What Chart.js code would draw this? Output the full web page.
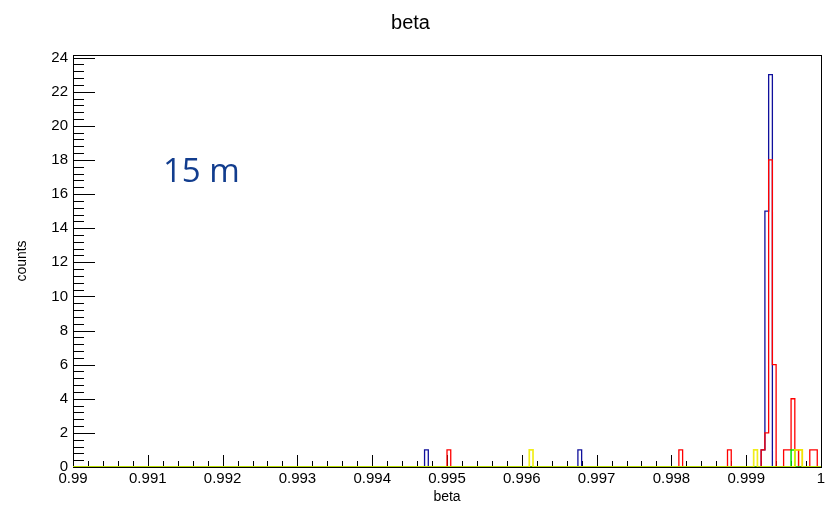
<!DOCTYPE html>
<html>
<head>
<meta charset="utf-8">
<script src="https://cdn.jsdelivr.net/npm/chart.js@4"></script>
<style>
html, body { margin: 0; padding: 0; background: #fff; }
</style>
</head>
<body>
<canvas id="chart" width="837" height="512"></canvas>
<script>
// binning of the beta histograms
const betaMin = 0.99;
const betaMax = 1.0;
const binWidth = 0.00005;

// non empty bins: lower edge of bin, counts
const blueBeta = [0.99470, 0.99675, 0.99920, 0.99925, 0.99930];
const blueCounts = [1, 1, 1, 15, 23];

const redBeta = [0.99500, 0.99810, 0.99875, 0.99920, 0.99925, 0.99930, 0.99935,
                 0.99950, 0.99955, 0.99960, 0.99965, 0.99985, 0.99990];
const redCounts = [1, 1, 1, 1, 2, 18, 6, 1, 1, 4, 1, 1, 1];

const yellowBeta = [0.99610, 0.99910, 0.99965, 0.99970];
const yellowCounts = [1, 1, 1, 1];

const greenBeta = [0.99960];
const greenCounts = [1];

const orangeBeta = [0.99970];
const orangeCounts = [1];

const xTicks = [0.99, 0.991, 0.992, 0.993, 0.994, 0.995, 0.996, 0.997, 0.998, 0.999, 1];
const yTicks = [0, 2, 4, 6, 8, 10, 12, 14, 16, 18, 20, 22, 24];
const yMax = 24.15;

const FONT = 'Liberation Sans, Arial, Helvetica, sans-serif';

// full histogram outline (every bin, empty ones at 0)
const histPoints = (edges, counts) => {
    const nBins = Math.round((betaMax - betaMin) / binWidth);
    const contents = new Array(nBins).fill(0);
    edges.forEach((e, i) => {
        contents[Math.round((e - betaMin) / binWidth)] = counts[i];
    });
    const pts = contents.map((c, i) => ({ x: betaMin + i * binWidth, y: c }));
    pts.push({ x: betaMax, y: contents[nBins - 1] });
    return pts;
};

const histDataset = (label, edges, counts, color, width) => ({
    label: label,
    data: histPoints(edges, counts),
    borderColor: color,
    borderWidth: width || 1.3,
    stepped: true,
    pointRadius: 0,
    fill: false
});

// ROOT style frame with ticks pointing inside
const framePlugin = {
    id: 'frame',
    beforeDatasetsDraw(chart) {
        const { ctx, chartArea: a, scales: { x, y } } = chart;
        ctx.save();
        ctx.strokeStyle = '#000';
        ctx.lineWidth = 1;
        ctx.strokeRect(a.left + 0.5, a.top + 0.5, a.right - a.left, a.bottom - a.top);

        ctx.beginPath();
        for (let k = 0; k <= 50; k++) {
            const px = Math.round(x.getPixelForValue(betaMin + k * 0.0002)) + 0.5;
            const len = k % 5 === 0 ? 12 : 6;
            ctx.moveTo(px, a.bottom);
            ctx.lineTo(px, a.bottom - len);
        }
        for (let k = 0; k <= 60; k++) {
            const v = k * 0.4;
            if (v > y.max) break;
            const py = Math.round(y.getPixelForValue(v)) + 0.5;
            const len = k % 5 === 0 ? 22 : 11;
            ctx.moveTo(a.left, py);
            ctx.lineTo(a.left + len, py);
        }
        ctx.stroke();
        ctx.restore();
    },
    afterDraw(chart) {
        const { ctx } = chart;
        ctx.save();
        ctx.fillStyle = '#123d8e';
        ctx.font = '33px "Open Sans", sans-serif';
        ctx.textBaseline = 'alphabetic';
        ctx.fillText('15 m', 163, 182);
        ctx.restore();
    }
};

new Chart(document.getElementById('chart'), {
    type: 'line',
    data: {
        datasets: [
            histDataset('yellow', yellowBeta, yellowCounts, 'rgba(240, 236, 0, 0.9)', 1.7),
            histDataset('green', greenBeta, greenCounts, '#00e000', 1.5),
            histDataset('red', redBeta, redCounts, '#ff0000'),
            histDataset('orange', orangeBeta, orangeCounts, '#ffaa00'),
            histDataset('blue', blueBeta, blueCounts, '#10109c')
        ]
    },
    options: {
        responsive: false,
        animation: false,
        devicePixelRatio: 1,
        layout: { padding: { left: 0, right: 16, top: 0, bottom: 0 } },
        plugins: {
            legend: { display: false },
            tooltip: { enabled: false },
            title: {
                display: true,
                text: 'beta',
                color: '#000',
                font: { family: FONT, size: 20, weight: 'normal' },
                padding: { top: 11, bottom: 20 }
            }
        },
        scales: {
            x: {
                type: 'linear',
                min: betaMin,
                max: betaMax,
                grid: { display: false, drawTicks: false },
                border: { display: false },
                afterBuildTicks: s => { s.ticks = xTicks.map(v => ({ value: v })); },
                ticks: {
                    autoSkip: false,
                    maxRotation: 0,
                    padding: 3,
                    color: '#000',
                    font: { family: FONT, size: 15 },
                    callback: v => String(+(+v).toFixed(4))
                },
                title: {
                    display: true,
                    text: 'beta',
                    color: '#000',
                    font: { family: FONT, size: 14 },
                    padding: { top: 0, bottom: 6 }
                },
                afterFit: s => { s.height = 45; }
            },
            y: {
                min: 0,
                max: yMax,
                grid: { display: false, drawTicks: false },
                border: { display: false },
                afterBuildTicks: s => { s.ticks = yTicks.map(v => ({ value: v })); },
                ticks: {
                    autoSkip: false,
                    padding: 5,
                    color: '#000',
                    font: { family: FONT, size: 15 }
                },
                title: {
                    display: true,
                    text: 'counts',
                    color: '#000',
                    font: { family: FONT, size: 14 },
                    padding: { top: 14, bottom: 0 }
                },
                afterFit: s => { s.width = 73; }
            }
        }
    },
    plugins: [framePlugin]
});
</script>
</body>
</html>
